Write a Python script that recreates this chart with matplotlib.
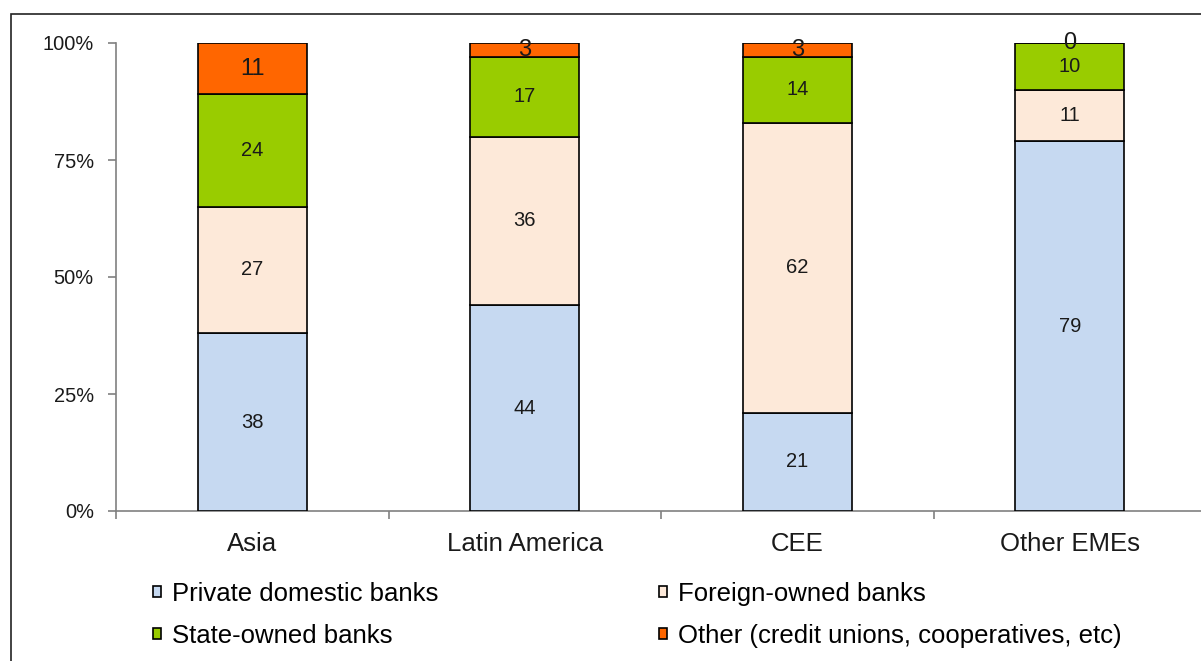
import matplotlib
matplotlib.use('Agg')
import matplotlib.pyplot as plt
from matplotlib.patches import Rectangle, Patch
import numpy as np

# --- Data ---
regions = ['Asia', 'Latin America', 'CEE', 'Other EMEs']
private_domestic = [38, 44, 21, 79]
foreign_owned = [27, 36, 62, 11]
state_owned = [24, 17, 14, 10]
other = [11, 3, 3, 0]

series_names = ['Private domestic banks', 'Foreign-owned banks',
                'State-owned banks', 'Other (credit unions, cooperatives, etc)']
series_colors = ['#C6D9F1', '#FDE9D9', '#99CC00', '#FF6600']
y_ticks = [0, 25, 50, 75, 100]
y_tick_labels = ['0%', '25%', '50%', '75%', '100%']

plt.rcParams['font.family'] = ['Liberation Sans', 'DejaVu Sans']

# --- Figure ---
fig = plt.figure(figsize=(12.01, 6.61), dpi=100)
ax = fig.add_axes([116 / 1201, 150 / 661, 1090 / 1201, 468 / 661])

x = np.arange(len(regions))
all_series = [private_domestic, foreign_owned, state_owned, other]
label_sizes = [14.5, 14.5, 14.5, 17]
bottom = np.zeros(len(regions))
for vals, name, color, fs in zip(all_series, series_names, series_colors, label_sizes):
    vals = np.array(vals, dtype=float)
    ax.bar(x, vals, width=0.4, bottom=bottom, color=color,
           edgecolor='black', linewidth=1.2, label=name, zorder=3)
    for xi, b, v in zip(x, bottom, vals):
        ax.text(xi, b + v / 2, f'{int(v)}', ha='center', va='center',
                fontsize=fs, color='#1a1a1a', zorder=4)
    bottom += vals

ax.set_xlim(-0.5, 3.5)
ax.set_ylim(0, 100)
ax.set_yticks(y_ticks)
ax.set_yticklabels(y_tick_labels)
ax.set_xticks(x)
ax.set_xticklabels(regions)
ax.set_xticks(np.arange(-0.5, 4.0, 1.0), minor=True)

ax.tick_params(axis='y', direction='out', length=6, width=1.2, colors='#808080',
               labelcolor='#1a1a1a', labelsize=14.4, pad=10)
ax.tick_params(axis='x', which='major', length=0, labelsize=18.5,
               labelcolor='#1a1a1a', pad=15)
ax.tick_params(axis='x', which='minor', direction='out', length=6, width=1.2,
               colors='#808080')

for side in ['top', 'right']:
    ax.spines[side].set_visible(False)
for side in ['left', 'bottom']:
    ax.spines[side].set_color('#808080')
    ax.spines[side].set_linewidth(1.2)

# --- Legend ---
handles = [Patch(facecolor=c, edgecolor='black', linewidth=1.2) for c in series_colors]
order = [0, 2, 1, 3]
fig.legend([handles[i] for i in order], [series_names[i] for i in order],
           loc='upper left', bbox_to_anchor=(153 / 1201, 1 - 582 / 661),
           ncol=2, frameon=False, fontsize=18.5,
           handlelength=0.3, handleheight=0.3, handletextpad=0.45,
           columnspacing=8.57, labelspacing=0.7, borderpad=0, borderaxespad=0)

# --- Outer frame ---
fig.patches.append(Rectangle((11 / 1201, -0.1), 1.2, 1.1 - 14 / 661,
                             transform=fig.transFigure, fill=False,
                             edgecolor='#222222', linewidth=1.2))

fig.savefig('out.png', dpi=100)
